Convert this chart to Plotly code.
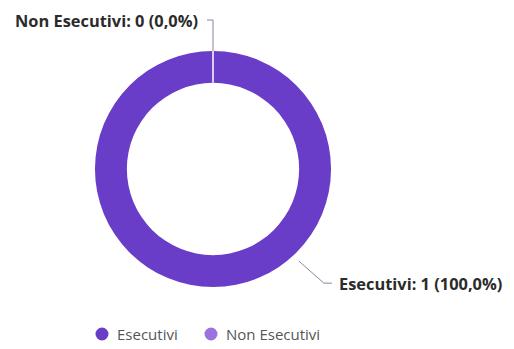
import math
import plotly.graph_objects as go

# ---- data ----
categories = ["Esecutivi", "Non Esecutivi"]
values = [1, 0]
colors = ["#6a3dc8", "#9c72de"]

# ---- layout constants (pixels) ----
W, H = 514, 349
CX, CY = 213, 169
R_OUT = 118
HOLE = 0.73
LINE_COLOR = "#8c84a8"
FONT = "Open Sans"
LABEL_SIZE = 16.4
LEGEND_X = [102, 211]
LEGEND_Y = 334


def px(x):
    return x / W


def py(y):
    return 1 - y / H


def fmt_pct(v, tot):
    return f"{v / tot * 100:.1f}".replace(".", ",")


total = sum(values)

fig = go.Figure()
fig.add_trace(go.Pie(
    labels=categories, values=values, hole=HOLE, sort=False,
    direction="clockwise", rotation=0,
    marker=dict(colors=colors, line=dict(color="white", width=0)),
    textinfo="none", showlegend=False,
    domain=dict(x=[px(CX - R_OUT), px(CX + R_OUT)],
                y=[py(CY + R_OUT), py(CY - R_OUT)]),
))

shapes = []
annotations = []

# angles of slice midpoints (clockwise from top)
cum = 0
mids = []
for v in values:
    start = cum / total * 360
    cum += v
    end = cum / total * 360
    mids.append(((start + end) / 2) % 360)

# Esecutivi label: displaced toward bottom-right
label_angles = [137, mids[1]]

# Non Esecutivi: separator at top + leader line up and left
shapes.append(dict(type="line", xref="paper", yref="paper",
                   x0=px(CX), y0=py(CY - R_OUT), x1=px(CX), y1=py(CY - R_OUT * HOLE),
                   line=dict(color="white", width=1.5)))
ang = math.radians(label_angles[1])
sx, sy = CX + R_OUT * math.sin(ang), CY - R_OUT * math.cos(ang)
ey = 20
shapes.append(dict(type="path", xref="paper", yref="paper",
                   path=f"M {px(sx)},{py(sy)} L {px(sx)},{py(ey)} L {px(sx - 6)},{py(ey)}",
                   line=dict(color=LINE_COLOR, width=1)))
annotations.append(dict(xref="paper", yref="paper", x=px(sx - 13), y=py(ey),
                        xanchor="right", yanchor="middle", showarrow=False,
                        text=f"<b>{categories[1]}: {values[1]} ({fmt_pct(values[1], total)}%)</b>",
                        font=dict(family=FONT, size=LABEL_SIZE, color="#2b2b2b")))

# Esecutivi leader
ang = math.radians(label_angles[0])
r0 = R_OUT + 8
sx, sy = CX + r0 * math.sin(ang), CY - r0 * math.cos(ang)
kx, ky = sx + 25, sy + 22
ex = kx + 8
shapes.append(dict(type="path", xref="paper", yref="paper",
                   path=f"M {px(sx)},{py(sy)} L {px(kx)},{py(ky)} L {px(ex)},{py(ky)}",
                   line=dict(color=LINE_COLOR, width=1)))
annotations.append(dict(xref="paper", yref="paper", x=px(ex + 5), y=py(ky),
                        xanchor="left", yanchor="middle", showarrow=False,
                        text=f"<b>{categories[0]}: {values[0]} ({fmt_pct(values[0], total)}%)</b>",
                        font=dict(family=FONT, size=LABEL_SIZE, color="#2b2b2b")))

# custom legend (circle markers + text)
for name, col, lx in zip(categories, colors, LEGEND_X):
    r = 6.5
    shapes.append(dict(type="circle", xref="paper", yref="paper",
                       x0=px(lx - r), x1=px(lx + r), y0=py(LEGEND_Y + r), y1=py(LEGEND_Y - r),
                       fillcolor=col, line=dict(width=0)))
    annotations.append(dict(xref="paper", yref="paper", x=px(lx + 13), y=py(LEGEND_Y),
                            xanchor="left", yanchor="middle", showarrow=False,
                            text=name,
                            font=dict(family=FONT, size=15, color="#555555")))

fig.update_layout(
    width=W, height=H,
    margin=dict(l=0, r=0, t=0, b=0),
    paper_bgcolor="white", plot_bgcolor="white",
    xaxis=dict(visible=False), yaxis=dict(visible=False),
    shapes=shapes, annotations=annotations,
    showlegend=False,
)

fig.write_html("out.html", config={"displayModeBar": False},
               post_script="document.body.style.margin='0';")
